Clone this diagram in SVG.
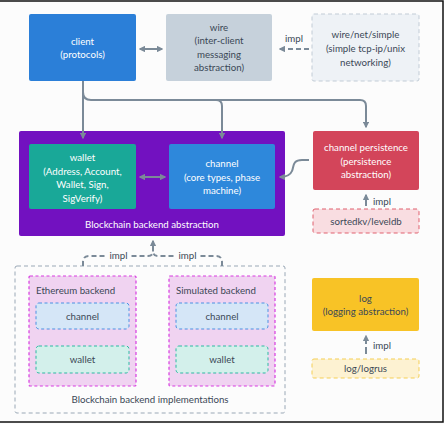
<svg xmlns="http://www.w3.org/2000/svg" width="444" height="424" viewBox="0 0 444 424">
<defs>
<marker id="ah" viewBox="0 0 10 10" refX="8" refY="5" markerWidth="3.4" markerHeight="3.4" orient="auto-start-reverse"><path d="M0,0 L10,5 L0,10 z" fill="#7b8a98"/></marker>
</defs>
<style>
text{font-family:Lato,"Noto Sans","DejaVu Sans",sans-serif;font-size:9.7px;text-anchor:middle}
.w{fill:#ffffff}
.d{fill:#3b4856}
.c{fill:none;stroke:#7b8a98;stroke-width:2}
.dash{stroke-dasharray:5 3}
</style>
<rect width="444" height="424" fill="#fcfcfc"/>
<path d="M0,1 H443 V422 H0" fill="none" stroke="#111" stroke-width="1.5"/>

<g id="impl-area">
<rect x="15" y="266" width="270" height="147" rx="2" fill="none" stroke="#9aa8b6" stroke-width="1" stroke-dasharray="4 3"/>
<text class="d" x="150" y="403">Blockchain backend implementations</text>
</g>

<g id="abstraction">
<rect x="19" y="131" width="266" height="105" rx="2" fill="#7211c0"/>
<text class="w" x="152" y="227.5">Blockchain backend abstraction</text>
</g>

<g id="client">
<rect x="29" y="14" width="107" height="67" rx="2" fill="#2b7fd8"/>
<text class="w" x="82.5" y="45">client</text>
<text class="w" x="82.5" y="58">(protocols)</text>
</g>

<g id="wire">
<rect x="166" y="14" width="106" height="67" rx="2" fill="#c6d1db"/>
<text class="d" x="219" y="30.5">wire</text>
<text class="d" x="219" y="44">(inter-client</text>
<text class="d" x="219" y="57.5">messaging</text>
<text class="d" x="219" y="71">abstraction)</text>
</g>

<g id="wire-net-simple">
<rect x="312" y="14" width="107" height="67" rx="2" fill="#eef2f6" stroke="#c2ccd6" stroke-width="1" stroke-dasharray="4 3"/>
<text class="d" x="365.5" y="38">wire/net/simple</text>
<text class="d" x="365.5" y="52">(simple tcp-ip/unix</text>
<text class="d" x="365.5" y="65.5">networking)</text>
</g>

<g id="wallet">
<rect x="29" y="144" width="107" height="65" rx="2" fill="#19a898"/>
<text class="w" x="82.5" y="161">wallet</text>
<text class="w" x="82.5" y="174.5">(Address, Account,</text>
<text class="w" x="82.5" y="188">Wallet, Sign,</text>
<text class="w" x="82.5" y="201.5">SigVerify)</text>
</g>

<g id="channel">
<rect x="169" y="144" width="106" height="65" rx="2" fill="#2e88db"/>
<text class="w" x="222" y="167">channel</text>
<text class="w" x="222" y="180.5">(core types, phase</text>
<text class="w" x="222" y="194">machine)</text>
</g>

<g id="channel-persistence">
<rect x="313" y="131" width="106" height="59" rx="2" fill="#d3455a"/>
<text class="w" x="366" y="151">channel persistence</text>
<text class="w" x="366" y="164.5">(persistence</text>
<text class="w" x="366" y="178">abstraction)</text>
</g>

<g id="sortedkv">
<rect x="313" y="209" width="106" height="24" rx="2" fill="#f9dde1" stroke="#e0606f" stroke-width="1" stroke-dasharray="4 3"/>
<text class="d" x="366" y="224.5">sortedkv/leveldb</text>
</g>

<g id="ethereum-backend">
<rect x="29" y="276" width="107" height="110" rx="1" fill="#f0d3f1" stroke="#d73be0" stroke-width="1.2" stroke-dasharray="3 2.5"/>
<text class="d" x="36" y="294" style="text-anchor:start">Ethereum backend</text>
<rect x="36" y="303" width="93" height="26" rx="3" fill="#d5e6f7" stroke="#4a90e2" stroke-width="1" stroke-dasharray="3 2.5"/>
<text class="d" x="82.5" y="319.5">channel</text>
<rect x="36" y="346" width="93" height="27" rx="3" fill="#d3f0eb" stroke="#2db8a2" stroke-width="1" stroke-dasharray="3 2.5"/>
<text class="d" x="82.5" y="362.5">wallet</text>
</g>

<g id="simulated-backend">
<rect x="169" y="276" width="106" height="110" rx="1" fill="#f0d3f1" stroke="#d73be0" stroke-width="1.2" stroke-dasharray="3 2.5"/>
<text class="d" x="176" y="294" style="text-anchor:start">Simulated backend</text>
<rect x="176" y="303" width="92" height="26" rx="3" fill="#d5e6f7" stroke="#4a90e2" stroke-width="1" stroke-dasharray="3 2.5"/>
<text class="d" x="222" y="319.5">channel</text>
<rect x="176" y="346" width="92" height="27" rx="3" fill="#d3f0eb" stroke="#2db8a2" stroke-width="1" stroke-dasharray="3 2.5"/>
<text class="d" x="222" y="362.5">wallet</text>
</g>

<g id="log">
<rect x="312" y="278" width="107" height="53" rx="2" fill="#f8c326"/>
<text class="d" x="365.5" y="302">log</text>
<text class="d" x="365.5" y="315">(logging abstraction)</text>
</g>

<g id="log-logrus">
<rect x="312" y="359" width="107" height="19" rx="2" fill="#fdf2d2" stroke="#f5cf55" stroke-width="1" stroke-dasharray="4 3"/>
<text class="d" x="365.5" y="372">log/logrus</text>
</g>

<g id="connectors">
<path class="c" d="M140,49 H162" marker-start="url(#ah)" marker-end="url(#ah)"/>
<path class="c dash" d="M309,49 H280" marker-end="url(#ah)"/>
<text class="d" x="294" y="42">impl</text>
<path class="c" d="M83,81 V138" marker-end="url(#ah)"/>
<path class="c" d="M83,92 Q83,100 91,100 H216 Q222,100 222,106 V138" marker-end="url(#ah)"/>
<path class="c" d="M216,100 H360 Q366,100 366,106 V127" marker-end="url(#ah)"/>
<path class="c" d="M140,177 H165" marker-start="url(#ah)" marker-end="url(#ah)"/>
<path class="c" d="M309,160 H302 C292,160 294,167 292,171 C290,176 286,177 280,177" marker-end="url(#ah)"/>
<path class="c" d="M366,206 V195" marker-end="url(#ah)"/>
<text class="d" x="382" y="205">impl</text>
<path class="c" d="M366,354 V336" stroke-dasharray="7 3" marker-end="url(#ah)"/>
<text class="d" x="382" y="349">impl</text>
<path class="c dash" d="M83,266 V262 Q83,256 89,256 H148 Q153,256 153,251"/>
<path class="c dash" d="M222,266 V262 Q222,256 216,256 H158 Q153,256 153,251"/>
<path class="c" d="M153,251 V241" marker-end="url(#ah)"/>
<rect x="107" y="250" width="23" height="11" fill="#fcfcfc"/>
<text class="d" x="118.5" y="259">impl</text>
<rect x="176" y="250" width="23" height="11" fill="#fcfcfc"/>
<text class="d" x="187.5" y="259">impl</text>
</g>
</svg>
